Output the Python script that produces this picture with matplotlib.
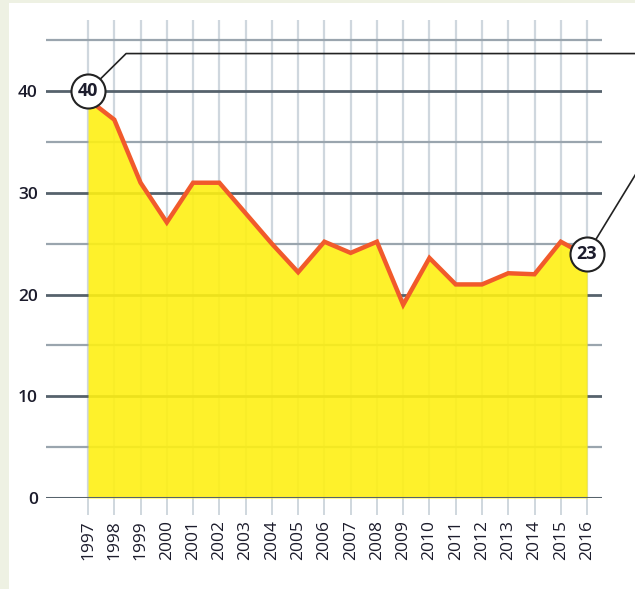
import matplotlib
matplotlib.use("Agg")
import matplotlib.pyplot as plt
from matplotlib.patches import Rectangle

years = list(range(1997, 2017))
values = [39.2, 37.2, 31, 27.1, 31, 31, 28, 25, 22.2, 25.2,
          24.1, 25.2, 19, 23.6, 21, 21, 22.1, 22, 25.2, 23.8]
major_ticks = [0, 10, 20, 30, 40]
minor_ticks = [5, 15, 25, 35, 45]
callouts = [(1997, 40, "40"), (2016, 24, "23")]

plt.rcParams['font.family'] = ['Open Sans', 'DejaVu Sans']

fig = plt.figure(figsize=(6.35, 5.89), dpi=100, facecolor="#eef1e3")
fig.add_artist(Rectangle((9 / 635, 0), 1, 1 - 3 / 589, transform=fig.transFigure,
                         facecolor="white", edgecolor="none", zorder=0))

ax = fig.add_axes([46 / 635, 91 / 589, (602 - 46) / 635, (498 - 20) / 589])
ax.set_facecolor("none")
ax.set_xlim(1995.4, 2016.57)
ax.set_ylim(0, 47)

# grid
for y in major_ticks:
    ax.axhline(y, color="#56626c", lw=2.0, zorder=1)
for y in minor_ticks:
    ax.axhline(y, color="#9aa5ae", lw=1.6, zorder=1)
for yr in years:
    ax.axvline(yr, color="#cfd7de", lw=1.6, zorder=0.5)

# area + line
ax.fill_between(years, values, 0, color="#fef014", alpha=0.9, lw=0, zorder=2)
ax.axhline(0, color="#56626c", lw=2.2, zorder=2.5)
ax.plot(years, values, color="#f15a2b", lw=3.2, solid_joinstyle="miter", zorder=3)

for spine in ax.spines.values():
    spine.set_visible(False)

ax.set_yticks(major_ticks)
ax.set_yticklabels([str(v) for v in major_ticks])
ax.tick_params(axis="y", length=0, pad=6, labelsize=12.5, labelcolor="#1c1c2c")
ax.set_xticks(years)
ax.set_xticklabels([str(y) for y in years], rotation=90)
ax.tick_params(axis="x", length=12, width=1.4, color="#cfd7de", pad=4,
               labelsize=12.5, labelcolor="#1c1c2c")
for lab in ax.get_yticklabels():
    lab.set_fontweight("semibold")

# callout leaders (off to the right edge)
ax.plot([1997, 1998.45, 2018.5], [40, 43.7, 43.7], color="#222222", lw=1.2,
        clip_on=False, zorder=4)
ax.plot([2016, 2018.2], [24, 33.3], color="#222222", lw=1.2,
        clip_on=False, zorder=4)

for x, y, txt in callouts:
    ax.scatter([x], [y], s=600, facecolor="white", edgecolor="#222222",
               linewidth=1.5, zorder=5, clip_on=False)
    ax.text(x, y, txt, ha="center", va="center", fontsize=13, fontweight="bold",
            color="#1c1c2c", zorder=6)

fig.savefig("out.png", dpi=100, facecolor=fig.get_facecolor())
